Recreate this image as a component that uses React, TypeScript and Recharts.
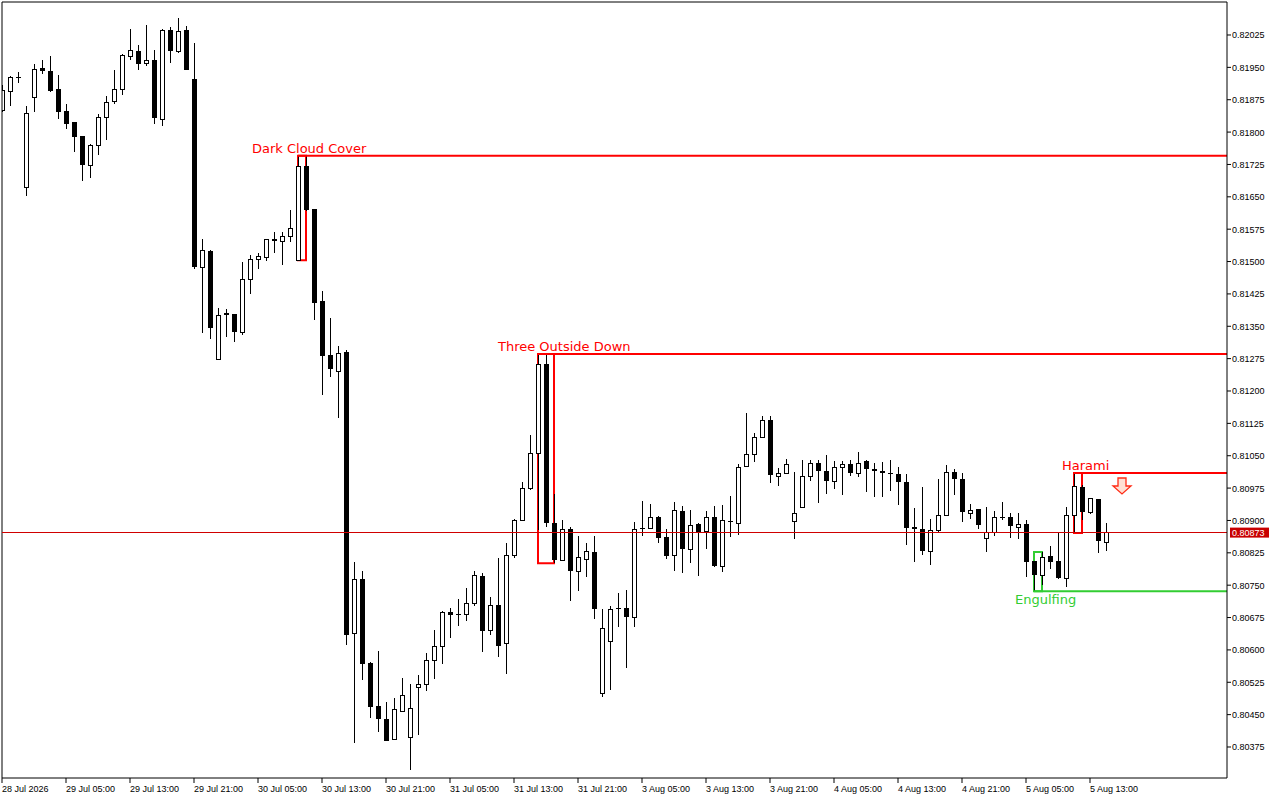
import { ComposedChart, Bar, XAxis, YAxis, ReferenceLine, ReferenceArea, ReferenceDot } from "recharts";

// hourly candles, 28 Jul 21:00 .. 5 Aug 15:00
const OPEN = [
  0.81851, 0.81895, 0.81928, 0.81673, 0.81881, 0.81949, 0.81942, 0.81900, 0.81849, 0.81823,
  0.81791, 0.81724, 0.81770, 0.81835, 0.81872, 0.81900, 0.81976, 0.81988, 0.81960, 0.81967,
  0.81830, 0.82037, 0.81988, 0.82037, 0.81923, 0.81487, 0.81524, 0.81274, 0.81381, 0.81378,
  0.81337, 0.81460, 0.81506, 0.81511, 0.81552, 0.81548, 0.81559, 0.81504, 0.81721, 0.81622,
  0.81409, 0.81283, 0.81246, 0.81290, 0.80639, 0.80764, 0.80570, 0.80470, 0.80440, 0.80393,
  0.80458, 0.80398, 0.80514, 0.80521, 0.80577, 0.80609, 0.80688, 0.80683, 0.80683, 0.80709,
  0.80771, 0.80646, 0.80704, 0.80616, 0.80820, 0.80901, 0.80975, 0.81056, 0.81263, 0.80894,
  0.80808, 0.80880, 0.80783, 0.80811, 0.80827, 0.80500, 0.80621, 0.80697, 0.80697, 0.80676,
  0.80882, 0.80882, 0.80908, 0.80862, 0.80820, 0.80922, 0.80834, 0.80892, 0.80876, 0.80908,
  0.80794, 0.80899, 0.80894, 0.81026, 0.81054, 0.81093, 0.81133, 0.81003, 0.81010, 0.80899,
  0.80931, 0.81003, 0.81033, 0.81015, 0.80991, 0.81024, 0.81031, 0.81010, 0.81038, 0.81019,
  0.81015, 0.81010, 0.81008, 0.80989, 0.80885, 0.80880, 0.80829, 0.80878, 0.80913, 0.81012,
  0.80996, 0.80917, 0.80927, 0.80859, 0.80873, 0.80908, 0.80908, 0.80885, 0.80892, 0.80806,
  0.80774, 0.80818, 0.80806, 0.80767, 0.80913, 0.80977, 0.80920, 0.80950, 0.80850,
];
const HIGH = [
  0.81909, 0.81930, 0.81939, 0.81860, 0.81958, 0.81967, 0.81976, 0.81932, 0.81865, 0.81824,
  0.81792, 0.81772, 0.81842, 0.81884, 0.81944, 0.81980, 0.82039, 0.82002, 0.82048, 0.81990,
  0.82038, 0.82044, 0.82064, 0.82046, 0.82006, 0.81552, 0.81527, 0.81392, 0.81390, 0.81379,
  0.81499, 0.81515, 0.81520, 0.81553, 0.81568, 0.81568, 0.81619, 0.81745, 0.81745, 0.81622,
  0.81432, 0.81369, 0.81304, 0.81295, 0.80804, 0.80783, 0.80571, 0.80597, 0.80479, 0.80489,
  0.80535, 0.80521, 0.80542, 0.80593, 0.80646, 0.80690, 0.80697, 0.80718, 0.80743, 0.80783,
  0.80778, 0.80723, 0.80813, 0.80848, 0.80903, 0.80989, 0.81098, 0.81286, 0.81286, 0.80961,
  0.80901, 0.80885, 0.80864, 0.80848, 0.80864, 0.80695, 0.80702, 0.80732, 0.80739, 0.80896,
  0.80945, 0.80938, 0.80910, 0.80880, 0.80943, 0.80933, 0.80924, 0.80893, 0.80922, 0.80933,
  0.80936, 0.80957, 0.81031, 0.81149, 0.81103, 0.81142, 0.81142, 0.81022, 0.81042, 0.81012,
  0.81040, 0.81040, 0.81040, 0.81052, 0.81038, 0.81038, 0.81040, 0.81059, 0.81039, 0.81033,
  0.81035, 0.81040, 0.81024, 0.81008, 0.80929, 0.80977, 0.80903, 0.80996, 0.81028, 0.81019,
  0.81010, 0.80938, 0.80927, 0.80931, 0.80922, 0.80943, 0.80917, 0.80917, 0.80901, 0.80806,
  0.80827, 0.80841, 0.80873, 0.80931, 0.81010, 0.80982, 0.80953, 0.80950, 0.80894,
];
const LOW = [
  0.81847, 0.81860, 0.81914, 0.81652, 0.81847, 0.81935, 0.81893, 0.81830, 0.81807, 0.81754,
  0.81687, 0.81694, 0.81747, 0.81782, 0.81865, 0.81886, 0.81967, 0.81944, 0.81953, 0.81819,
  0.81814, 0.81960, 0.81983, 0.81943, 0.81483, 0.81334, 0.81320, 0.81273, 0.81325, 0.81314,
  0.81330, 0.81425, 0.81483, 0.81501, 0.81520, 0.81492, 0.81545, 0.81503, 0.81618, 0.81365,
  0.81191, 0.81232, 0.81137, 0.80611, 0.80384, 0.80530, 0.80442, 0.80410, 0.80388, 0.80392,
  0.80456, 0.80322, 0.80403, 0.80505, 0.80533, 0.80567, 0.80628, 0.80655, 0.80667, 0.80702,
  0.80595, 0.80634, 0.80584, 0.80544, 0.80813, 0.80900, 0.80971, 0.80878, 0.80885, 0.80801,
  0.80806, 0.80713, 0.80736, 0.80769, 0.80672, 0.80491, 0.80507, 0.80653, 0.80558, 0.80653,
  0.80864, 0.80880, 0.80848, 0.80811, 0.80783, 0.80778, 0.80801, 0.80771, 0.80834, 0.80792,
  0.80780, 0.80862, 0.80866, 0.81025, 0.81035, 0.81091, 0.80987, 0.80980, 0.81009, 0.80857,
  0.80930, 0.80991, 0.80940, 0.80961, 0.80973, 0.80959, 0.81003, 0.81001, 0.80966, 0.80954,
  0.80954, 0.80968, 0.80936, 0.80843, 0.80804, 0.80820, 0.80797, 0.80871, 0.80910, 0.80959,
  0.80896, 0.80903, 0.80880, 0.80827, 0.80864, 0.80901, 0.80859, 0.80857, 0.80769, 0.80736,
  0.80750, 0.80787, 0.80764, 0.80746, 0.80871, 0.80901, 0.80917, 0.80825, 0.80829,
];
const CLOSE = [
  0.81897, 0.81928, 0.81927, 0.81844, 0.81946, 0.81942, 0.81895, 0.81847, 0.81819, 0.81789,
  0.81724, 0.81770, 0.81835, 0.81870, 0.81900, 0.81979, 0.81990, 0.81958, 0.81967, 0.81833,
  0.82037, 0.81988, 0.82034, 0.81944, 0.81487, 0.81527, 0.81346, 0.81376, 0.81376, 0.81337,
  0.81460, 0.81506, 0.81513, 0.81552, 0.81553, 0.81559, 0.81578, 0.81721, 0.81619, 0.81404,
  0.81281, 0.81251, 0.81288, 0.80634, 0.80764, 0.80567, 0.80468, 0.80440, 0.80389, 0.80463,
  0.80495, 0.80465, 0.80521, 0.80577, 0.80609, 0.80688, 0.80681, 0.80681, 0.80709, 0.80774,
  0.80644, 0.80704, 0.80609, 0.80820, 0.80901, 0.80975, 0.81056, 0.81263, 0.80894, 0.80808,
  0.80880, 0.80783, 0.80815, 0.80829, 0.80695, 0.80651, 0.80695, 0.80695, 0.80676, 0.80880,
  0.80880, 0.80908, 0.80859, 0.80818, 0.80924, 0.80834, 0.80889, 0.80873, 0.80908, 0.80794,
  0.80901, 0.80898, 0.81024, 0.81054, 0.81093, 0.81133, 0.81005, 0.81010, 0.81031, 0.80917,
  0.81003, 0.81033, 0.81015, 0.80991, 0.81024, 0.81031, 0.81010, 0.81033, 0.81019, 0.81015,
  0.81010, 0.81009, 0.80989, 0.80882, 0.80880, 0.80829, 0.80878, 0.80913, 0.81012, 0.80996,
  0.80920, 0.80924, 0.80889, 0.80873, 0.80908, 0.80907, 0.80887, 0.80892, 0.80804, 0.80774,
  0.80815, 0.80804, 0.80767, 0.80913, 0.80980, 0.80920, 0.80952, 0.80852, 0.80873,
];

const TIME_TICKS = [0, 8, 16, 24, 32, 40, 48, 56, 64, 72, 80, 88, 96, 104, 112, 120, 128, 136];
const TIME_LABELS = [
  "28 Jul 2026", "29 Jul 05:00", "29 Jul 13:00", "29 Jul 21:00", "30 Jul 05:00", "30 Jul 13:00",
  "30 Jul 21:00", "31 Jul 05:00", "31 Jul 13:00", "31 Jul 21:00", "3 Aug 05:00", "3 Aug 13:00",
  "3 Aug 21:00", "4 Aug 05:00", "4 Aug 13:00", "4 Aug 21:00", "5 Aug 05:00", "5 Aug 13:00",
];
const PRICE_TICKS = [
  0.80375, 0.8045, 0.80525, 0.806, 0.80675, 0.8075, 0.80825, 0.809, 0.80975, 0.8105, 0.81125, 0.812,
  0.81275, 0.8135, 0.81425, 0.815, 0.81575, 0.8165, 0.81725, 0.818, 0.81875, 0.8195, 0.82025,
];

// candlestick patterns found (bar index range)
const PATTERN_NAMES = ["Dark Cloud Cover", "Three Outside Down", "Engulfing", "Harami"];
const PATTERN_FROM = [37, 67, 129, 134];
const PATTERN_TO = [38, 69, 130, 135];
const PATTERN_BULLISH = [false, false, true, false];
const SELL_SIGNAL_BAR = 140;

// layout
const X_MAX = 153.125;
const Y_MIN = 0.80303159;
const Y_MAX = 0.82101474;
const RED = "#ff0000";
const GREEN = "#32cd32";
const AXIS_FONT = "'Liberation Sans', Arial, sans-serif";
const LABEL_FONT = "'DejaVu Sans', Verdana, sans-serif";
const LABEL_OFFSET: Record<string, [number, number]> = {
  "Dark Cloud Cover": [-46, -3],
  "Three Outside Down": [-40, -3],
  Engulfing: [-19, 13],
  Harami: [-12, -3],
};

const data = OPEN.map((open, i) => ({
  i,
  open,
  high: HIGH[i],
  low: LOW[i],
  close: CLOSE[i],
  range: [LOW[i], HIGH[i]],
}));
const lastPrice = CLOSE[CLOSE.length - 1];

const Candle = (props: any) => {
  const { x, y, width, height, payload } = props;
  const { open, close, high, low } = payload;
  const c = Math.round(x + width / 2);
  const py = (v: number) => y + ((high - v) / (high - low)) * height;
  const top = Math.round(py(Math.max(open, close)));
  const bot = Math.round(py(Math.min(open, close)));
  const h = Math.max(bot - top, 1);
  return (
    <g shapeRendering="crispEdges">
      <rect x={c} y={Math.round(y)} width={1} height={Math.round(height)} fill="#000" />
      {close > open ? (
        <rect x={c - 1.5} y={top + 0.5} width={4} height={h} fill="#fff" stroke="#000" strokeWidth={1} />
      ) : (
        <rect x={c - 2} y={top} width={5} height={h} fill="#000" />
      )}
    </g>
  );
};

const TimeTick = (props: any) => {
  const { x, y, payload } = props;
  const label = TIME_LABELS[TIME_TICKS.indexOf(payload.value)];
  return (
    <text x={x} y={y + 7} fontSize={9} fontFamily={AXIS_FONT} fill="#000">
      {label}
    </text>
  );
};

const PriceTick = (props: any) => {
  const { x, y, payload } = props;
  return (
    <text x={x} y={y + 3.5} fontSize={9} fontFamily={AXIS_FONT} fill="#000">
      {payload.value.toFixed(5)}
    </text>
  );
};

const SellArrow = (props: any) => {
  const { cx, cy } = props;
  const t = cy + 5;
  const d = `M${cx - 4},${t} L${cx + 4},${t} L${cx + 4},${t + 8} L${cx + 9},${t + 8} L${cx},${t + 16} L${cx - 9},${t + 8} L${cx - 4},${t + 8} Z`;
  return <path d={d} fill="#ffe0d4" stroke="#ff2a14" strokeWidth={1.3} />;
};

const PriceBox = (props: any) => {
  const { cx, cy } = props;
  return (
    <g>
      <rect x={cx + 3} y={cy - 4.5} width={39} height={10} fill="#c80000" />
      <text x={cx + 5} y={cy + 3.5} fontSize={9} fontFamily={AXIS_FONT} fill="#fff">
        {lastPrice.toFixed(5)}
      </text>
    </g>
  );
};

export default function App() {
  return (
    <div style={{ position: "absolute", left: 0, top: 0, width: 1280, height: 800, background: "#fff" }}>
      <ComposedChart width={1280} height={800} data={data} margin={{ top: 2, right: 0, bottom: 0, left: 2 }}>
        <XAxis
          dataKey="i"
          type="number"
          domain={[0, X_MAX]}
          allowDataOverflow
          ticks={TIME_TICKS}
          interval={0}
          height={22}
          tickSize={5}
          tickMargin={2}
          tick={<TimeTick />}
          axisLine={{ stroke: "#000" }}
          tickLine={{ stroke: "#000" }}
        />
        <YAxis
          orientation="right"
          type="number"
          domain={[Y_MIN, Y_MAX]}
          allowDataOverflow
          ticks={PRICE_TICKS}
          interval={0}
          width={53}
          tickSize={4}
          tickMargin={1}
          tick={<PriceTick />}
          axisLine={{ stroke: "#000" }}
          tickLine={{ stroke: "#000" }}
        />
        <ReferenceLine x={0} stroke="#000" ifOverflow="visible" />
        <ReferenceLine y={Y_MAX} stroke="#000" ifOverflow="visible" />
        <ReferenceLine y={lastPrice} stroke="#d00000" strokeWidth={1} shapeRendering="crispEdges" ifOverflow="visible" />
        <Bar dataKey="range" barSize={6} shape={<Candle />} isAnimationActive={false} />
        {PATTERN_NAMES.map((name, k) => {
          const from = PATTERN_FROM[k];
          const to = PATTERN_TO[k];
          const hi = Math.max(...HIGH.slice(from, to + 1));
          const lo = Math.min(...LOW.slice(from, to + 1));
          const color = PATTERN_BULLISH[k] ? GREEN : RED;
          const level = PATTERN_BULLISH[k] ? lo : hi;
          const [dx, dy] = LABEL_OFFSET[name];
          return [
            <ReferenceArea
              key={name + "-box"}
              x1={from}
              x2={to}
              y1={lo}
              y2={hi}
              fill="none"
              fillOpacity={0}
              stroke={color}
              strokeWidth={2}
              ifOverflow="visible"
            />,
            <ReferenceLine
              key={name + "-line"}
              segment={[
                { x: from, y: level },
                { x: X_MAX, y: level },
              ]}
              stroke={color}
              strokeWidth={2}
              ifOverflow="visible"
            />,
            <ReferenceDot
              key={name + "-text"}
              x={from}
              y={level}
              ifOverflow="visible"
              shape={(p: any) => (
                <text x={p.cx + dx} y={p.cy + dy} fontSize={13} fontFamily={LABEL_FONT} fill={color}>
                  {name}
                </text>
              )}
            />,
          ];
        })}
        <ReferenceDot
          x={SELL_SIGNAL_BAR}
          y={Math.max(HIGH[PATTERN_FROM[3]], HIGH[PATTERN_TO[3]])}
          ifOverflow="visible"
          shape={<SellArrow />}
        />
        <ReferenceDot x={X_MAX} y={lastPrice} ifOverflow="visible" shape={<PriceBox />} />
      </ComposedChart>
    </div>
  );
}
